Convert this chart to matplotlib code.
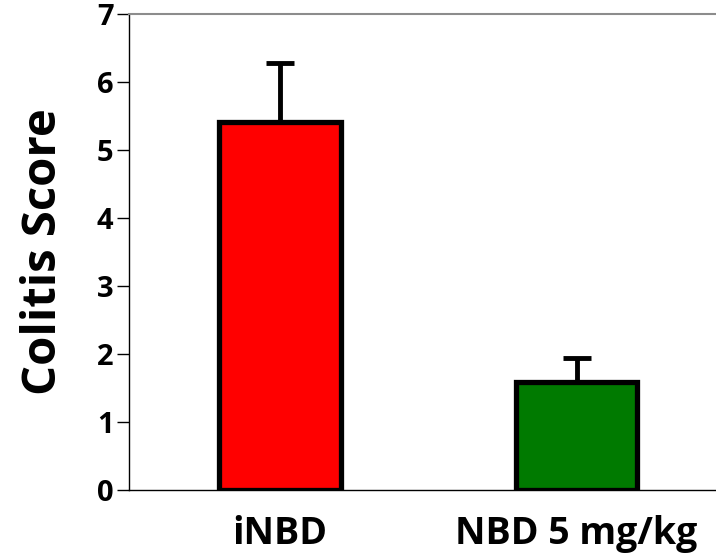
import numpy as np
import matplotlib
matplotlib.use('Agg')
import matplotlib.pyplot as plt

groups = ['iNBD', 'NBD 5 mg/kg']
scores = [5.41, 1.59]
errors = [0.87, 0.35]
colors = ['#ff0000', '#007a00']

plt.rcParams['font.family'] = ['Open Sans', 'DejaVu Sans']

fig = plt.figure(figsize=(7.16, 5.57), dpi=100)
ax = fig.add_axes([0.180, 0.120, 0.820, 0.855])

x = np.arange(len(groups))
ax.bar(x, scores, width=0.41, color=colors, edgecolor='black', linewidth=3.8, zorder=3)
ax.errorbar(x, scores, yerr=[np.zeros(len(errors)), errors], fmt='none',
            ecolor='black', elinewidth=3.5, capsize=10, capthick=3.5, zorder=2)

ax.set_xlim(-0.51, 1.47)
ax.set_ylim(0, 7)
ax.set_yticks(range(0, 8))
ax.set_xticks(x)
ax.set_xticklabels(groups, fontsize=27, fontweight='bold')
ax.tick_params(axis='x', length=0, pad=18)
ax.tick_params(axis='y', length=9, width=1, direction='out', pad=2, labelsize=21)
for t in ax.get_yticklabels():
    t.set_fontweight('bold')

ax.set_ylabel('Colitis Score', fontsize=34, fontweight='bold')
ax.yaxis.set_label_coords(-0.106, 0.5)

ax.spines['right'].set_visible(False)
ax.spines['top'].set_color('#8c8c8c')
ax.spines['top'].set_linewidth(1.5)
ax.spines['left'].set_linewidth(1)
ax.spines['bottom'].set_linewidth(1)

fig.savefig('out.png', dpi=100)
